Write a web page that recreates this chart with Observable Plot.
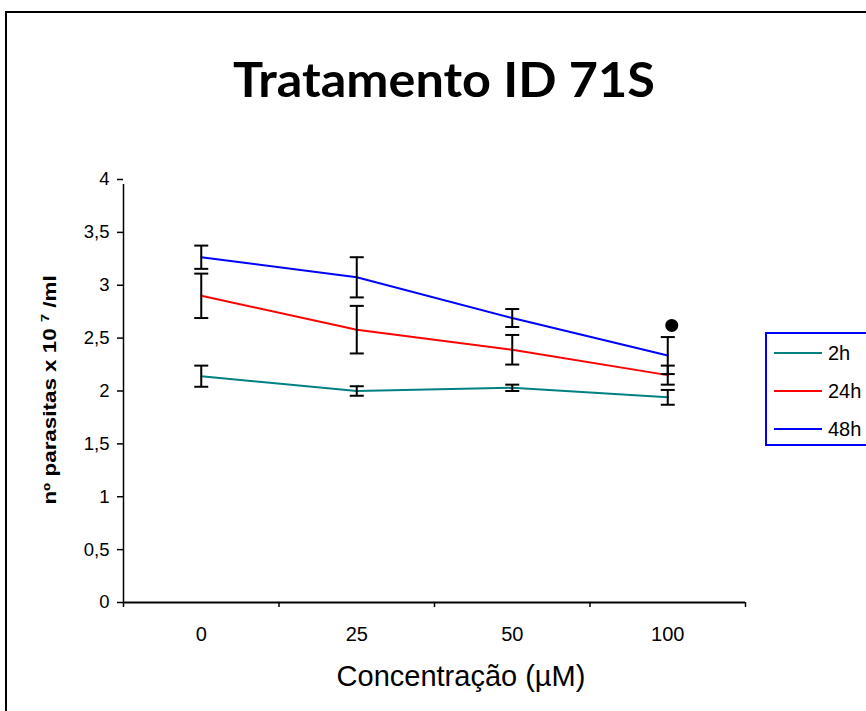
<!DOCTYPE html>
<html>
<head>
<meta charset="utf-8">
<script src="https://cdn.jsdelivr.net/npm/d3@7"></script>
<script src="https://cdn.jsdelivr.net/npm/@observablehq/plot@0.6"></script>
<style>
  html, body { margin: 0; padding: 0; background: #fff; }
  #wrap { position: relative; width: 866px; height: 711px; overflow: hidden; background: #fff; font-family: "Liberation Sans", Arial, sans-serif; }
  #frame { position: absolute; left: 5px; top: 11px; width: 900px; height: 800px; border: 2px solid #000; box-sizing: border-box; }
  #title { position: absolute; left: 444px; top: 78px; transform: translate(-50%, -50%) scaleX(1.05); font-family: Lato, "Open Sans", sans-serif; font-weight: 700; font-size: 48px; white-space: nowrap; color: #000; }
  #ylabel { position: absolute; left: 49px; top: 390px; transform: translate(-50%, -50%) rotate(-90deg) scale(1.12, 0.9); font-weight: 700; font-size: 20px; white-space: nowrap; color: #000; }
  #ylabel sup { font-size: 13px; }
  #xlabel { position: absolute; left: 461px; top: 676px; transform: translate(-50%, -50%); font-size: 29px; white-space: nowrap; color: #000; }
  #legend { position: absolute; left: 765px; top: 332px; width: 140px; height: 114px; border: 2px solid #0000ff; box-sizing: border-box; background: #fff; }
  #plot { position: absolute; left: 0; top: 0; }
</style>
</head>
<body>
<div id="wrap">
  <div id="frame"></div>
  <div id="plot"></div>
  <div id="title">Tratamento ID 71S</div>
  <div id="ylabel">nº parasitas x 10 <sup>7</sup> /ml</div>
  <div id="xlabel">Concentração (µM)</div>
  <div id="legend"></div>
</div>
<script>
// ---- data ----
const categories = ["0", "25", "50", "100"];
const seriesNames = ["2h", "24h", "48h"];
const seriesColors = ["#008080", "#ff0000", "#0000ff"];
const values2h  = [2.14, 2.00, 2.03, 1.94];
const errors2h  = [0.10, 0.045, 0.03, 0.07];
const values24h = [2.90, 2.58, 2.39, 2.15];
const errors24h = [0.21, 0.225, 0.14, 0.09];
const values48h = [3.265, 3.075, 2.69, 2.335];
const errors48h = [0.11, 0.19, 0.085, 0.175];
const markerCategory = "100";
const markerValue = 2.62;
const yTicks = [0, 0.5, 1, 1.5, 2, 2.5, 3, 3.5, 4];

// ---- table ----
const allValues = [values2h, values24h, values48h];
const allErrors = [errors2h, errors24h, errors48h];
const rows = [];
seriesNames.forEach((s, k) => {
  categories.forEach((c, i) => {
    rows.push({series: s, i, cat: c, v: allValues[k][i], e: allErrors[k][i]});
  });
});
const boundaries = d3.range(categories.length + 1).map(j => j - 0.5);
const capSymbol = {
  draw(context, size) {
    const w = Math.sqrt(size / Math.PI);
    context.moveTo(-w, 0);
    context.lineTo(w, 0);
  }
};

const chart = Plot.plot({
  width: 866,
  height: 711,
  marginLeft: 123,
  marginRight: 121,
  marginTop: 179,
  marginBottom: 109,
  style: {fontFamily: "'Liberation Sans', Arial, sans-serif", background: "transparent", color: "#000"},
  x: {type: "linear", domain: [-0.5, categories.length - 0.5]},
  y: {domain: [0, 4]},
  color: {domain: seriesNames, range: seriesColors},
  marks: [
    Plot.axisY({ticks: yTicks, tickSize: 6, tickPadding: 8, fontSize: 18.5, label: null,
                tickFormat: d => String(d).replace(".", ","), stroke: "#000", strokeWidth: 1.5}),
    Plot.axisX({ticks: boundaries, tickSize: 5, tickFormat: () => "", label: null, stroke: "#000", strokeWidth: 1.5}),
    Plot.axisX({ticks: d3.range(categories.length), tickSize: 0, tickPadding: 24, fontSize: 20,
                tickFormat: i => categories[i], label: null}),
    Plot.ruleX([-0.5], {y1: 0, y2: 4, stroke: "#000", strokeWidth: 1.5, insetBottom: -5}),
    Plot.ruleY([0], {stroke: "#000", strokeWidth: 2}),
    Plot.line(rows, {x: "i", y: "v", z: "series", stroke: "series", strokeWidth: 2}),
    Plot.ruleX(rows, {x: "i", y1: d => d.v - d.e, y2: d => d.v + d.e, stroke: "#000", strokeWidth: 2}),
    Plot.dot(rows, {x: "i", y: d => d.v - d.e, symbol: capSymbol, r: 7, stroke: "#000", strokeWidth: 2}),
    Plot.dot(rows, {x: "i", y: d => d.v + d.e, symbol: capSymbol, r: 7, stroke: "#000", strokeWidth: 2}),
    Plot.dot([{i: categories.indexOf(markerCategory), v: markerValue}], {x: "i", y: "v", r: 6.5, fill: "#000", dx: 4})
  ]
});
document.getElementById("plot").appendChild(chart);

// ---- legend ----
const legend = d3.select("#legend").append("svg").attr("width", 140).attr("height", 110)
  .style("position", "absolute").style("left", "-2px").style("top", "-2px");
seriesNames.forEach((s, k) => {
  const y = 21 + k * 38;
  legend.append("line").attr("x1", 9).attr("x2", 57).attr("y1", y).attr("y2", y)
    .attr("stroke", seriesColors[k]).attr("stroke-width", 2);
  legend.append("text").attr("x", 63).attr("y", y).attr("dy", "0.35em")
    .attr("font-family", "'Liberation Sans', Arial, sans-serif").attr("font-size", 20).text(s);
});
</script>
</body>
</html>
